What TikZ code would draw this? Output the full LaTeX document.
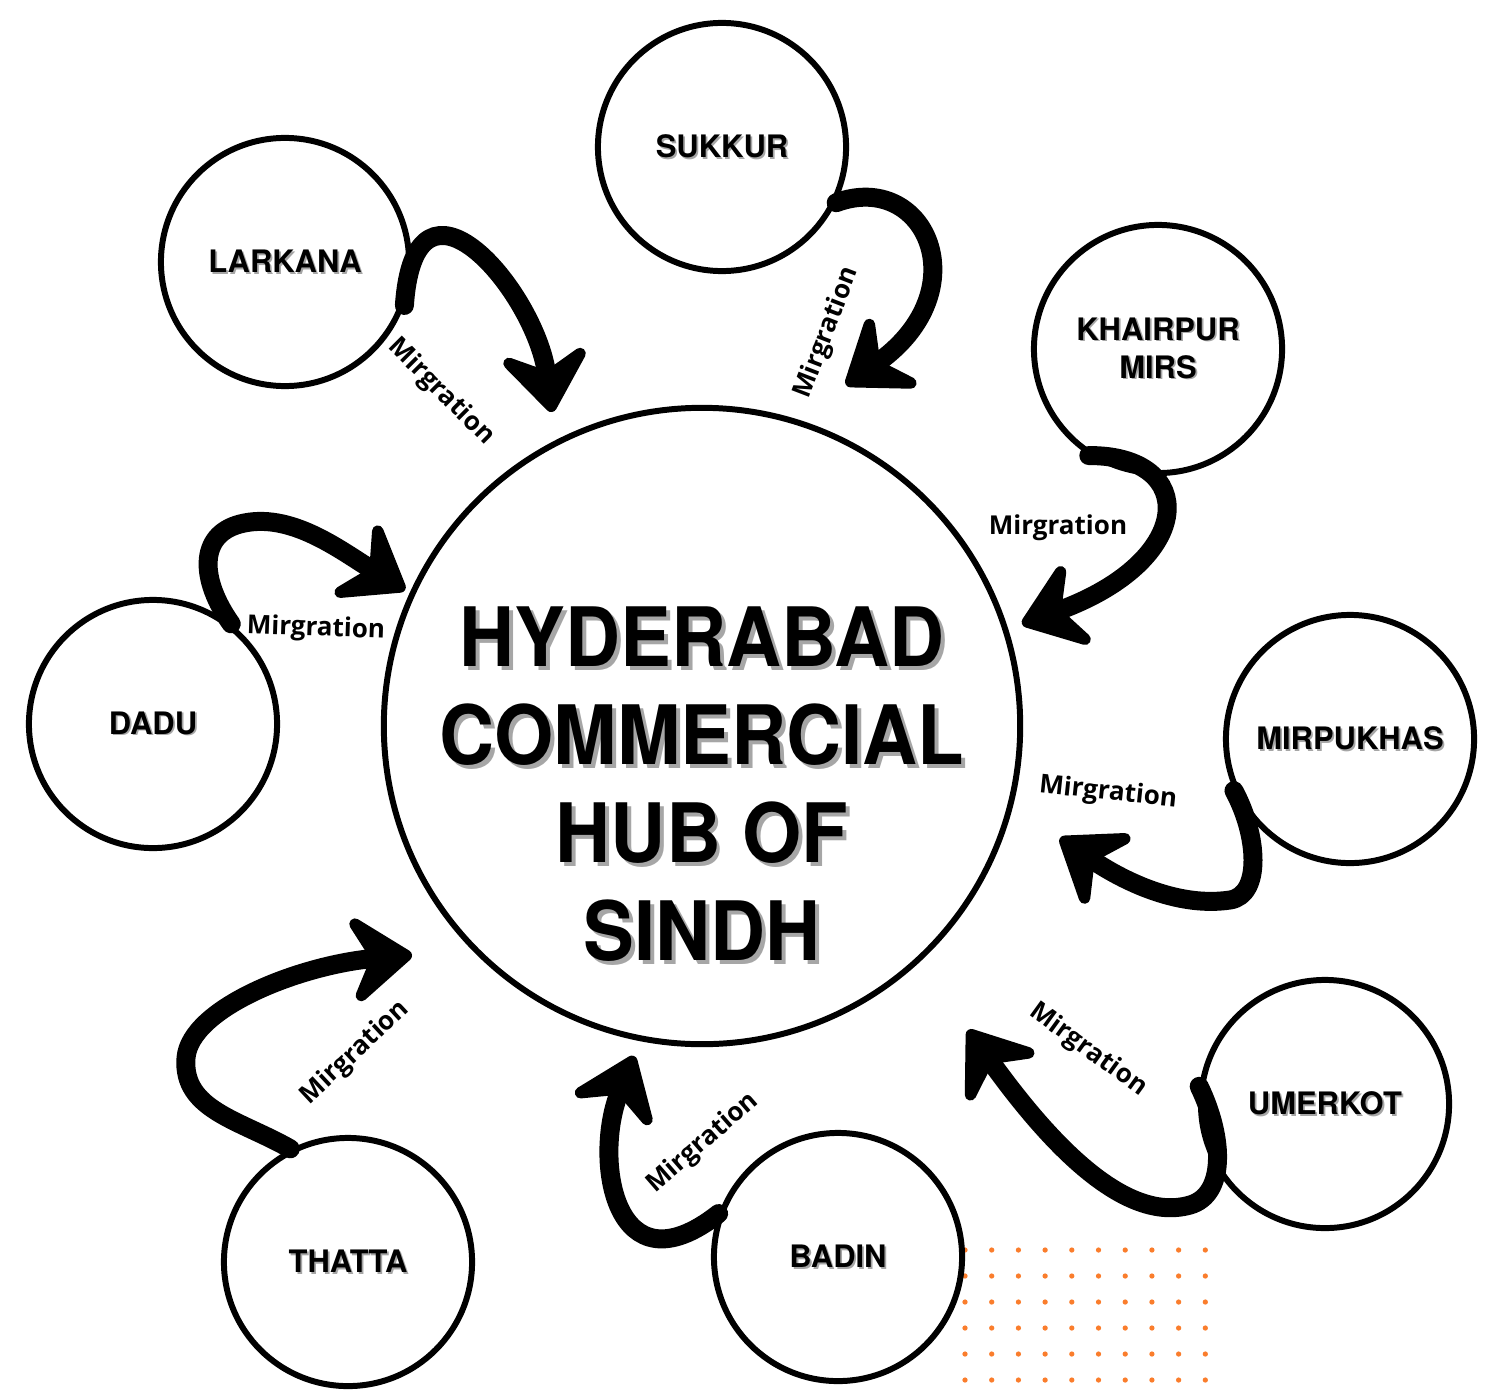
\documentclass[tikz,border=0pt]{standalone}
\usepackage{fontspec}
\setmainfont{TeX Gyre Heros}
\newfontfamily\hubfont[FakeStretch=0.93]{TeX Gyre Heros}
\newfontfamily\migfont{Open Sans}
\usepackage{tikz}
\usetikzlibrary{arrows.meta}
\definecolor{dotorange}{HTML}{FA7D2C}
\newcommand{\shadowtxt}[2]{\makebox[0pt][l]{\kern#1\raisebox{-#1}{\textcolor{black!35}{#2}}}#2}
\newcommand{\city}[1]{\shadowtxt{0.5pt}{#1}}
\newcommand{\hubline}[1]{\shadowtxt{1.1pt}{#1}}

\begin{document}
\begin{tikzpicture}[x=0.01cm,y=-0.01cm,
    town/.style={circle,draw,line width=1.7pt,fill=white,minimum size=2.48cm,inner sep=0pt,
                 align=center,font=\bfseries\fontsize{8.8}{10.8}\selectfont},
    hubring/.style={circle,draw,line width=1.7pt,fill=white,minimum size=6.36cm,inner sep=0pt},
    miglbl/.style={font=\migfont\bfseries\fontsize{7.4}{9}\selectfont,inner sep=1pt},
    mig/.style={line width=5.4pt,line cap=round,
                -{Stealth[length=21pt,width=31pt,inset=8pt,round]}}]
\useasboundingbox (0,0) rectangle (1498,1394);

% dotted corner
\foreach \i in {0,...,9}{
  \foreach \j in {0,...,5}{
    \fill[dotorange] ({965+26.7*\i},{1250+26*\j}) circle (0.75pt);
  }
}

\begin{scope}
    \node[hubring] (hub) at (702,726) {};
    \node[align=center,font=\hubfont\bfseries\fontsize{23.3}{27.9}\selectfont] (title) at (702,786)
      {\hubline{HYDERABAD}\\\hubline{COMMERCIAL}\\\hubline{HUB OF}\\\hubline{SINDH}};
    \node[town] (sukkur) at (722,147) {\city{SUKKUR}};
    \node[town] (larkana) at (285,262) {\city{LARKANA}};
    \node[town] (khairpur) at (1158,349) {\city{KHAIRPUR}\\\city{MIRS}};
    \node[town] (dadu) at (153,724) {\city{DADU}};
    \node[town] (mirpukhas) at (1350,739) {\city{MIRPUKHAS}};
    \node[town] (umerkot) at (1325,1104) {\city{UMERKOT}};
    \node[town] (badin) at (838,1257) {\city{BADIN}};
    \node[town] (thatta) at (348,1262) {\city{THATTA}};
\end{scope}

% arrow tips, just short of the hub
\coordinate (tipL) at (552,412);
\coordinate (tipS) at (846,385);
\coordinate (tipK) at (1022,624);
\coordinate (tipM) at (1060,838);
\coordinate (tipU) at (968,1030);
\coordinate (tipB) at (634,1056);
\coordinate (tipT) at (412,955);
\coordinate (tipD) at (405,590);

\begin{scope}
    \draw[mig] (larkana.-20) .. controls (415,150) and (535,290) .. (tipL);
    \draw[mig] (sukkur.-26) .. controls (925,170) and (980,290) .. (tipS);
    \draw[mig] (khairpur.-123) .. controls (1198,455) and (1198,560) .. (tipK);
    \draw[mig] (mirpukhas.-156) .. controls (1258,835) and (1262,895) .. (1230,900)
               .. controls (1170,909) and (1110,872) .. (tipM);
    \draw[mig] (umerkot.172) .. controls (1225,1140) and (1225,1195) .. (1190,1205)
               .. controls (1120,1225) and (1040,1130) .. (tipU);
    \draw[mig] (badin.160) .. controls (615,1295) and (592,1160) .. (tipB);
    \draw[mig] (thatta.117) .. controls (240,1120) and (182,1110) .. (186,1058)
               .. controls (190,1008) and (300,965) .. (tipT);
    \draw[mig] (dadu.52) .. controls (200,580) and (198,535) .. (240,524)
               .. controls (290,511) and (340,550) .. (tipD);
\end{scope}

\begin{scope}[every node/.style={miglbl}]
    \node[rotate=-45] (migL) at (441,392) {Mirgration};
    \node[rotate=69] (migS) at (827,333) {Mirgration};
    \node (migK) at (1058,528) {Mirgration};
    \node[rotate=-6] (migM) at (1108,793) {Mirgration};
    \node[rotate=-36] (migU) at (1088,1050) {Mirgration};
    \node[rotate=41] (migB) at (703,1143) {Mirgration};
    \node[rotate=43] (migT) at (355,1053) {Mirgration};
    \node[rotate=-2] (migD) at (316,629) {Mirgration};
\end{scope}
\end{tikzpicture}
\end{document}
